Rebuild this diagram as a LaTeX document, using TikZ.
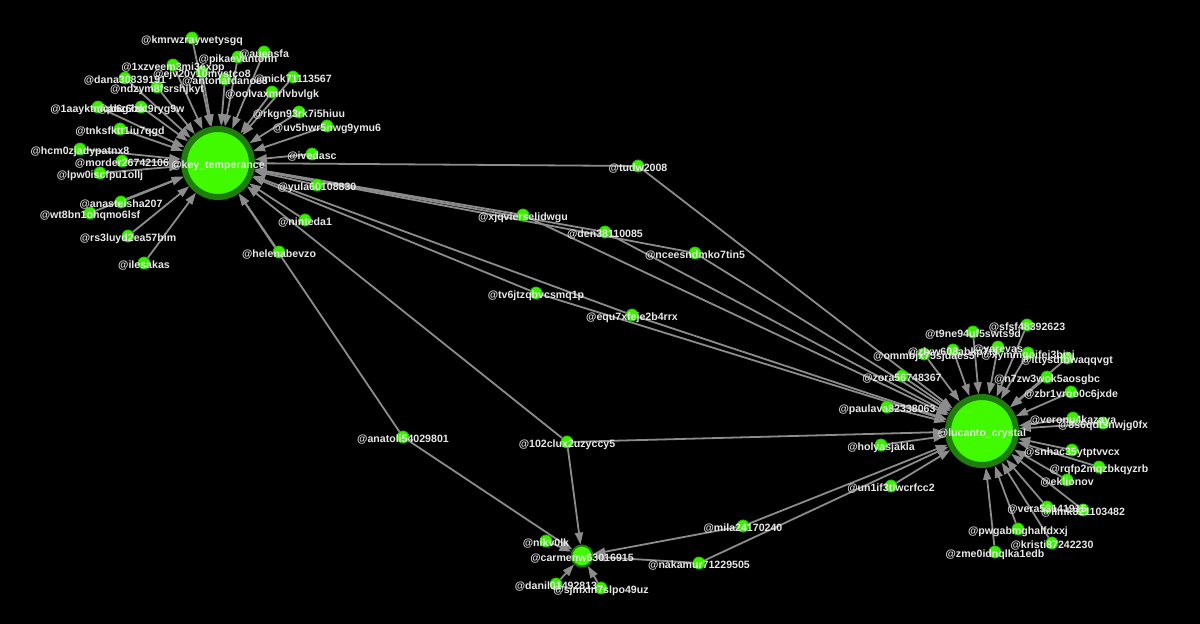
\documentclass[tikz,border=0pt]{standalone}
\usepackage{fontspec}
\setmainfont{Liberation Sans}
\usetikzlibrary{arrows.meta}

\definecolor{dotgreen}{RGB}{58,240,0}
\definecolor{dotedge}{RGB}{40,190,0}
\definecolor{hubgreen}{RGB}{66,250,0}
\definecolor{ringgreen}{RGB}{30,125,12}
\definecolor{edgegray}{RGB}{140,140,140}
\definecolor{labelgray}{RGB}{232,232,232}

\pgfdeclarelayer{back}
\pgfdeclarelayer{links}
\pgfsetlayers{back,links,main}

\begin{document}
\begin{tikzpicture}[
  x=0.5pt,y=-0.5pt,
  font=\bfseries\fontsize{5.3}{6}\selectfont,
  user/.style={circle,fill=dotgreen,draw=dotedge,line width=0.4pt,minimum size=6pt,inner sep=0pt},
  hub/.style={circle,fill=hubgreen,draw=ringgreen,line width=3pt,minimum size=34pt,inner sep=0pt},
  midhub/.style={hub,line width=1pt,minimum size=10.5pt},
  edge/.style={draw=edgegray,line width=0.9pt,-{Triangle[length=6pt,width=4pt]}},
  lbl/.style={text=labelgray,inner sep=0pt,yshift=-1.2pt},
]

  \begin{pgfonlayer}{back}
    \fill[black] (0,0) rectangle (1200,624);
  \end{pgfonlayer}

  % Hubs.
  \node[hub] (kt) at (218,163) {};
  \node[hub] (lc) at (982,431) {};
  \node[midhub] (cw) at (582,556) {};

  % Accounts around @key_temperance.
  \node[user] (kmrw) at (192,38) {};
  \node[user] (aueas) at (264,52) {};
  \node[user] (pika) at (238,57) {};
  \node[user] (xzve) at (173,65) {};
  \node[user] (ejv) at (202,72) {};
  \node[user] (dana) at (125,78) {};
  \node[user] (anton) at (225,79) {};
  \node[user] (nick) at (293,77) {};
  \node[user] (ndzy) at (157,87) {};
  \node[user] (oolv) at (272,92) {};
  \node[user] (aayk) at (98,107) {};
  \node[user] (bot) at (141,107) {};
  \node[user] (rkgn) at (299,112) {};
  \node[user] (uv5h) at (327,126) {};
  \node[user] (tnks) at (120,129) {};
  \node[user] (hcm0) at (80,149) {};
  \node[user] (mord) at (122,161) {};
  \node[user] (lpw0) at (100,173) {};
  \node[user] (ived) at (312,154) {};
  \node[user] (yula) at (317,185) {};
  \node[user] (anas) at (121,202) {};
  \node[user] (wt8b) at (90,213) {};
  \node[user] (nint) at (305,220) {};
  \node[user] (rs3l) at (128,236) {};
  \node[user] (hele) at (279,252) {};
  \node[user] (iles) at (144,263) {};

  % Accounts in between.
  \node[user] (tudw) at (638,166) {};
  \node[user] (xjqv) at (523,215) {};
  \node[user] (den) at (605,232) {};
  \node[user] (ncee) at (695,253) {};
  \node[user] (tv6j) at (536,293) {};
  \node[user] (equ7) at (632,315) {};
  \node[user] (anat) at (403,437) {};
  \node[user] (clux) at (567,442) {};
  \node[user] (mila) at (743,526) {};
  \node[user] (nikv) at (546,541) {};
  \node[user] (naka) at (699,563) {};
  \node[user] (dani) at (556,584) {};
  \node[user] (sjmx) at (601,588) {};

  % Accounts around @lucanto_crystal.
  \node[user] (sfsf) at (1027,325) {};
  \node[user] (t9ne) at (973,332) {};
  \node[user] (yare) at (998,347) {};
  \node[user] (zlxw) at (953,350) {};
  \node[user] (ommb) at (924,354) {};
  \node[user] (xymm) at (1028,353) {};
  \node[user] (itty) at (1067,358) {};
  \node[user] (zora) at (902,376) {};
  \node[user] (n7zw) at (1047,377) {};
  \node[user] (zbr1) at (1071,392) {};
  \node[user] (paul) at (887,407) {};
  \node[user] (vero) at (1073,418) {};
  \node[user] (s6qd) at (1103,423) {};
  \node[user] (holy) at (881,445) {};
  \node[user] (snha) at (1072,450) {};
  \node[user] (rqfp) at (1099,467) {};
  \node[user] (ekli) at (1067,480) {};
  \node[user] (un1i) at (891,486) {};
  \node[user] (vera) at (1047,507) {};
  \node[user] (llmk) at (1083,510) {};
  \node[user] (pwga) at (1018,529) {};
  \node[user] (kris) at (1052,543) {};
  \node[user] (zme0) at (995,552) {};

  % Mentions, drawn under the dots.
  \begin{pgfonlayer}{links}
    \foreach \s in {kmrw,aueas,pika,xzve,ejv,dana,anton,nick,ndzy,oolv,aayk,bot,rkgn,uv5h,tnks,
                    hcm0,mord,lpw0,ived,yula,anas,wt8b,nint,rs3l,hele,iles,
                    tudw,xjqv,den,ncee,tv6j,equ7,anat,clux}
      \draw[edge] (\s) -- (kt);
    \foreach \s in {sfsf,t9ne,yare,zlxw,ommb,xymm,itty,zora,n7zw,zbr1,paul,vero,s6qd,holy,snha,
                    rqfp,ekli,un1i,vera,llmk,pwga,kris,zme0,
                    tudw,xjqv,den,ncee,tv6j,equ7,clux,mila,naka}
      \draw[edge] (\s) -- (lc);
    \foreach \s in {clux,anat,nikv,mila,naka,dani,sjmx}
      \draw[edge] (\s) -- (cw);
  \end{pgfonlayer}

  % Handles on top.
  \foreach \n/\t in {kt/key\_temperance,lc/lucanto\_crystal,cw/carmenw63016915,
      kmrw/kmrwzraywetysgq,aueas/aueasfa,pika/pikaevantonn,xzve/1xzveem3mi3expp,
      ejv/ejv20y10mystco8,dana/dana30839191,anton/antonatdanoe8,nick/nick71113567,
      ndzy/ndzym8fsrshjkyt,oolv/oolvaxmrlvbvlgk,aayk/1aayktmqb6g7zk,bot/abz6bot9ryg9w,
      rkgn/rkgn93rk7i5hiuu,uv5h/uv5hwr5nwg9ymu6,tnks/tnksfktt1iu7qgd,hcm0/hcm0zjadypatnx8,
      mord/morder26742106,lpw0/lpw0iscfpu1ollj,ived/ivedasc,yula/yula60108830,
      anas/anasteisha207,wt8b/wt8bn1ohqmo6lsf,nint/ninteda1,rs3l/rs3luyd2ea57bim,
      hele/helenabevzo,iles/ilesakas,
      tudw/tudw2008,xjqv/xjqvierselidwgu,den/den38110085,ncee/nceesndmko7tin5,
      tv6j/tv6jtzqbvcsmq1p,equ7/equ7xfeje2b4rrx,anat/anatoli54029801,clux/102clux2uzyccy5,
      mila/mila24170240,nikv/nikv0lk,naka/nakamur71229505,dani/danil01492813,
      sjmx/sjmxln7slpo49uz,
      sfsf/sfsf48392623,t9ne/t9ne94uf5swts9d,yare/yarevas,zlxw/zlxw608abkp7ts,
      ommb/ommbjx75sjuaes5,xymm/xymmgoifej3bisj,itty/ittysdtbwaqqvgt,zora/zora56748367,
      n7zw/n7zw3wok5aosgbc,zbr1/zbr1vroo0c6jxde,paul/paulava82338063,vero/veronu4kazaya,
      s6qd/8s6qdtsnwjg0fx,holy/holyasjakla,snha/snhac35ytptvvcx,rqfp/rqfp2mqzbkqyzrb,
      ekli/eklionov,un1i/un1if3tlwcrfcc2,vera/vera53141915,llmk/llmk821103482,
      pwga/pwgabmghalfdxxj,kris/kristi87242230,zme0/zme0idnqlka1edb}
    \node[lbl] (\n-l) at (\n) {@\t};

\end{tikzpicture}
\end{document}
